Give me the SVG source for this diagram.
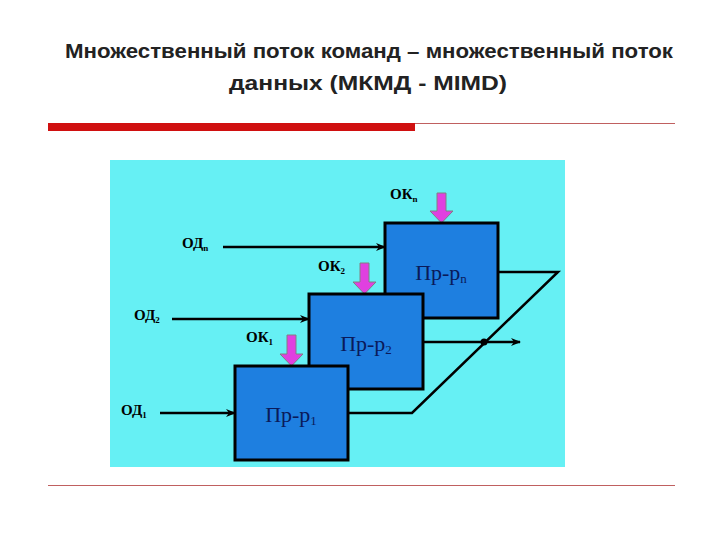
<svg xmlns="http://www.w3.org/2000/svg" width="720" height="540" viewBox="0 0 720 540">
<defs>
<marker id="ah" markerWidth="10" markerHeight="8" refX="9" refY="4" orient="auto" markerUnits="userSpaceOnUse"><path d="M0,0 L10,4 L0,8 L3,4 Z" fill="#000"/></marker>
</defs>
<style>
.t{font-family:"Liberation Sans",sans-serif;font-weight:bold;fill:#222}
.box rect{fill:#1e7fe0;stroke:#000;stroke-width:3}
.box text{font-family:"Liberation Serif",serif;font-size:22px;fill:#0a1a5a;text-anchor:middle}
.lbl{font-family:"Liberation Serif",serif;font-weight:bold;font-size:15px;fill:#000}
.ln{stroke:#000;stroke-width:2.5;fill:none}
.ok{fill:#e040e0;stroke:#808080;stroke-width:1}
</style>
<rect width="720" height="540" fill="#fff"/>
<text class="t" x="65" y="58" font-size="20" textLength="608" lengthAdjust="spacingAndGlyphs">Множественный поток команд – множественный поток</text>
<text class="t" x="229" y="90" font-size="20" textLength="278" lengthAdjust="spacingAndGlyphs">данных (МКМД - MIMD)</text>
<rect x="48" y="123" width="367" height="8" fill="#d01010"/>
<line x1="415" y1="123.5" x2="675" y2="123.5" stroke="#c06060" stroke-width="1"/>
<line x1="48" y1="485.5" x2="675" y2="485.5" stroke="#c06060" stroke-width="1"/>
<rect x="110" y="160" width="455" height="307" fill="#66f0f4"/>
<g id="connectors">
<polyline class="ln" points="498,272 558,272 412,413 348,413"/>
<line class="ln" x1="423" y1="342" x2="520" y2="342" marker-end="url(#ah)"/>
<circle cx="484" cy="342" r="3.5" fill="#000"/>
<line class="ln" x1="223" y1="247" x2="385" y2="247" marker-end="url(#ah)"/>
<line class="ln" x1="172" y1="319" x2="309" y2="319" marker-end="url(#ah)"/>
<line class="ln" x1="160" y1="413" x2="235" y2="413" marker-end="url(#ah)"/>
<path class="ok" d="M437,193 h9 v18 h7 l-11.5,12 l-11.5,-12 h7 z"/>
<path class="ok" d="M360,263 h9 v19 h7 l-11.5,12 l-11.5,-12 h7 z"/>
<path class="ok" d="M287,335 h9 v19 h7 l-11.5,12 l-11.5,-12 h7 z"/>
</g>
<g id="node-n" class="box"><rect x="385" y="223" width="113" height="95"/><text x="441" y="280">Пр-р<tspan font-size="13" dy="3">n</tspan></text></g>
<g id="node-2" class="box"><rect x="309" y="294" width="114" height="95"/><text x="366" y="351">Пр-р<tspan font-size="13" dy="3">2</tspan></text></g>
<g id="node-1" class="box"><rect x="235" y="366" width="113" height="94"/><text x="291" y="422">Пр-р<tspan font-size="13" dy="3">1</tspan></text></g>
<g id="labels">
<text class="lbl" x="390" y="199">ОК<tspan font-size="9" dy="3">n</tspan></text>
<text class="lbl" x="318" y="271">ОК<tspan font-size="9" dy="3">2</tspan></text>
<text class="lbl" x="246" y="342">ОК<tspan font-size="9" dy="3">1</tspan></text>
<text class="lbl" x="182" y="248">ОД<tspan font-size="9" dy="3">n</tspan></text>
<text class="lbl" x="134" y="320">ОД<tspan font-size="9" dy="3">2</tspan></text>
<text class="lbl" x="121" y="415">ОД<tspan font-size="9" dy="3">1</tspan></text>
</g>
</svg>
